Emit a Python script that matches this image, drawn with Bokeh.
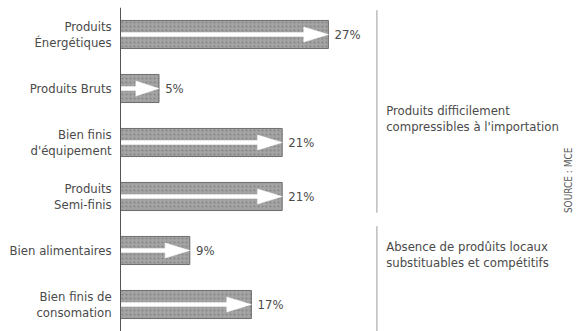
from bokeh.plotting import figure
from bokeh.models import Range1d, Label, ColumnDataSource, Span
from bokeh.core.properties import value
from bokeh.embed import file_html
from bokeh.resources import INLINE
import math

categories = ["Produits\nÉnergétiques", "Produits Bruts", "Bien finis\nd'équipement",
              "Produits\nSemi-finis", "Bien alimentaires", "Bien finis de\nconsomation"]
shares = [27, 5, 21, 21, 9, 17]
value_labels = ["27%", "5%", "21%", "21%", "9%", "17%"]
group_notes = ["Produits difficilement\ncompressibles à l'importation",
               "Absence de prodûits locaux\nsubstituables et compétitifs"]
source_note = "SOURCE : MCE"

FONT = "Liberation Sans Narrow, DejaVu Sans Condensed, Roboto, sans-serif"
TXT = "#4a4a4a"

pos = list(range(len(categories)))

p = figure(width=582, height=331, output_backend="svg", toolbar_location=None,
           x_range=Range1d(-120 / 7.7, 60), y_range=Range1d(5.5, -0.5),
           min_border_left=0, min_border_top=7, min_border_bottom=0, min_border_right=0)
p.outline_line_color = None
p.grid.visible = False
p.axis.visible = False
p.background_fill_color = "white"
p.border_fill_color = "white"

# value axis baseline
p.add_layout(Span(location=0, dimension="height", line_color="#555555", line_width=1))

src = ColumnDataSource(dict(y=pos, v=shares, lab=value_labels,
                            lx=[s + 0.8 for s in shares]))

# category labels, each line right aligned against the baseline
LINE = 0.142
ly, lt = [], []
for y, c in zip(pos, categories):
    parts = c.split("\n")
    n = len(parts)
    for k, t in enumerate(parts):
        ly.append(y + (k - (n - 1) / 2) * 2 * LINE)
        lt.append(t)
p.text(x=-1.15, y=ly, text=lt, text_font=value(FONT),
       text_font_size="13px", text_color=TXT, text_align="right",
       text_baseline="middle")

p.hbar(y="y", left=0, right="v", height=0.52, source=src,
       fill_color="#a3a3a3", line_color="#6e6e6e", line_width=1,
       hatch_pattern="dot", hatch_color="#707070", hatch_scale=4, hatch_alpha=0.6)

# white arrows inside bars, derived from the values
xs, ys = [], []
for y, v in zip(pos, shares):
    head = min(3.2, 0.6 * v)
    sh = 0.035
    hh = 0.14
    xs.append([0, v - head, v - head, v, v - head, v - head, 0])
    ys.append([y - sh, y - sh, y - hh, y, y + hh, y + sh, y + sh])
p.patches(xs, ys, fill_color="white", line_color="white", line_width=0.5)

p.text(x="lx", y="y", text="lab", source=src, text_font=value(FONT),
       text_font_size="13px", text_color=TXT, text_baseline="middle", text_align="left")

# group dividers
p.segment(x0=[33.3, 33.3], y0=[-0.45, 3.55], x1=[33.3, 33.3], y1=[3.3, 5.5],
          line_color="#9a9a9a", line_width=1)

p.add_layout(Label(x=34.5, y=1.55, text=group_notes[0], text_font=FONT,
                   text_font_size="13px", text_color=TXT, text_baseline="middle",
                   text_line_height=1.05))
p.add_layout(Label(x=34.5, y=4.07, text=group_notes[1], text_font=FONT,
                   text_font_size="13px", text_color=TXT, text_baseline="middle",
                   text_line_height=1.05))
p.add_layout(Label(x=58.2, y=2.7, text=source_note, text_font=FONT, angle=math.pi / 2,
                   text_font_size="10px", text_color="#5a5a5a", text_baseline="middle",
                   text_align="center"))

open("out.html", "w").write(file_html(p, INLINE))
